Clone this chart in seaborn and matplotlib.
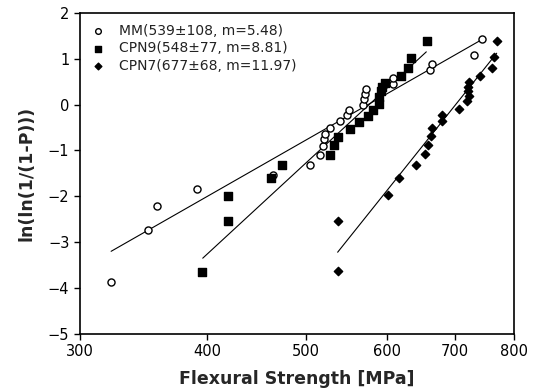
import numpy as np
import pandas as pd
import matplotlib
matplotlib.use("Agg")
import matplotlib.pyplot as plt
from matplotlib.ticker import FixedLocator, FixedFormatter, NullLocator
import seaborn as sns

# Weibull data
mm_x = [322, 350, 357, 391, 464, 504, 516, 519, 521, 522, 528, 540, 549, 551,
        569, 570, 571, 572, 608, 608, 662, 664, 730, 744]
mm_y = [-3.86, -2.74, -2.21, -1.84, -1.53, -1.31, -1.11, -0.91, -0.76, -0.64,
        -0.51, -0.36, -0.22, -0.11, 0.0, 0.12, 0.24, 0.34, 0.44, 0.57, 0.76,
        0.89, 1.09, 1.43]

cpn9_x = [395, 419, 419, 462, 474, 528, 533, 537, 552, 564, 575, 581, 589, 590,
          592, 593, 598, 620, 629, 634, 657]
cpn9_y = [-3.66, -2.53, -2.0, -1.6, -1.32, -1.09, -0.89, -0.71, -0.53, -0.39,
          -0.24, -0.11, 0.02, 0.17, 0.29, 0.39, 0.47, 0.62, 0.80, 1.02, 1.38]

cpn7_x = [537, 537, 601, 617, 641, 654, 659, 663, 665, 680, 680, 707, 719, 722,
          721, 721, 722, 740, 761, 765, 769]
cpn7_y = [-3.64, -2.53, -1.97, -1.60, -1.31, -1.08, -0.89, -0.68, -0.51, -0.36,
          -0.22, -0.09, 0.07, 0.18, 0.29, 0.39, 0.49, 0.63, 0.80, 1.04, 1.38]

# fit line end points
mm_fit_x, mm_fit_y = [322, 744], [-3.20, 1.42]
cpn9_fit_x, cpn9_fit_y = [396, 656], [-3.35, 1.15]
cpn7_fit_x, cpn7_fit_y = [537, 769], [-3.22, 1.12]

labels = ["MM(539±108, m=5.48)", "CPN9(548±77, m=8.81)", "CPN7(677±68, m=11.97)"]

pts = pd.concat([
    pd.DataFrame({"x": mm_x, "y": mm_y, "set": labels[0]}),
    pd.DataFrame({"x": cpn9_x, "y": cpn9_y, "set": labels[1]}),
    pd.DataFrame({"x": cpn7_x, "y": cpn7_y, "set": labels[2]}),
])
fits = pd.concat([
    pd.DataFrame({"x": mm_fit_x, "y": mm_fit_y, "set": "a"}),
    pd.DataFrame({"x": cpn9_fit_x, "y": cpn9_fit_y, "set": "b"}),
    pd.DataFrame({"x": cpn7_fit_x, "y": cpn7_fit_y, "set": "c"}),
])

sns.set_style("ticks")
plt.rcParams["font.family"] = ["DejaVu Sans"]

fig = plt.figure(figsize=(5.39, 3.9), dpi=100)
ax = fig.add_axes([0.148, 0.144, 0.806, 0.823])

sns.lineplot(data=fits, x="x", y="y", units="set", estimator=None,
             color="black", lw=0.8, ax=ax, legend=False)

styles = {
    labels[0]: dict(marker="o", facecolor="white", s=26),
    labels[1]: dict(marker="s", facecolor="black", s=32),
    labels[2]: dict(marker="D", facecolor="black", s=18),
}
for lab in labels:
    st = styles[lab]
    sns.scatterplot(data=pts[pts["set"] == lab], x="x", y="y", ax=ax,
                    marker=st["marker"], s=st["s"], color=st["facecolor"],
                    edgecolor="black", linewidth=1.0, label=lab, zorder=3)

ax.set_xscale("log")
ax.set_xlim(300, 800)
ax.set_ylim(-5, 2)
ax.xaxis.set_major_locator(FixedLocator([300, 400, 500, 600, 700, 800]))
ax.xaxis.set_major_formatter(FixedFormatter(["300", "400", "500", "600", "700", "800"]))
ax.xaxis.set_minor_locator(NullLocator())
ax.set_yticks(range(-5, 3))
ax.tick_params(labelsize=10.5, length=4, width=1, colors="black")
for sp in ax.spines.values():
    sp.set_linewidth(1.2)
    sp.set_color("black")

ax.set_xlabel("Flexural Strength [MPa]", fontsize=12.5, fontweight="bold", labelpad=8)
ax.set_ylabel("ln(ln(1/(1-P)))", fontsize=12.5, fontweight="bold", labelpad=9)

leg = ax.legend(loc="upper left", frameon=False, fontsize=10, handletextpad=1.0,
                borderaxespad=0.5, labelspacing=0.25, handlelength=1.0,
                borderpad=0.3, markerscale=0.8)
for t in leg.get_texts():
    t.set_color("#222222")

fig.savefig("out.png", dpi=100)
